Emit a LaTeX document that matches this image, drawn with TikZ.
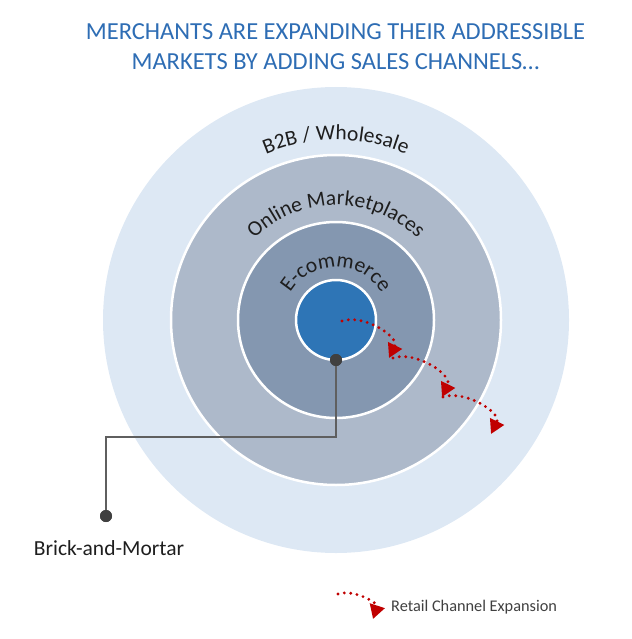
\documentclass[tikz,border=0pt]{standalone}
\usepackage{fontspec}
\setmainfont{Carlito}
\usetikzlibrary{arrows.meta,decorations.text,calc}
\definecolor{outerc}{HTML}{DDE8F4}
\definecolor{mktc}{HTML}{ADB9CA}
\definecolor{ecomc}{HTML}{8497B0}
\definecolor{corec}{HTML}{2E75B6}
\definecolor{titlec}{HTML}{2E6DB4}
\definecolor{ringtxt}{HTML}{1E1E1E}
\definecolor{dotc}{HTML}{404040}
\definecolor{connc}{HTML}{5F5F5F}
\definecolor{expred}{HTML}{C00000}
\begin{document}
\begin{tikzpicture}[x=1pt,y=1pt,
  ring/.style={circle, inner sep=0pt, line width=2.5pt},
  pin/.style={circle, fill=dotc, inner sep=0pt, minimum size=12pt},
  conn/.style={draw=connc, line width=1.6pt},
  expand/.style={draw=expred, line width=3.2pt, dash pattern=on 0pt off 6.4pt, line cap=round,
    -{Triangle[length=14pt 0 0,width=15pt 0 0]}},
  titletxt/.style={anchor=base, text=titlec, font=\fontsize{24.5}{27}\selectfont, inner sep=0pt},
  ringlabel/.style={decorate, decoration={text along path, text align=center, text color=ringtxt}}
]
\useasboundingbox (0,0) rectangle (631,-639);
\coordinate (C) at (336,-320);
% rings
\node[ring, fill=outerc, minimum size=466pt] (outer) at (C) {};
\node[ring, fill=mktc, draw=white, minimum size=330pt] (mkt) at (C) {};
\node[ring, fill=ecomc, draw=white, minimum size=196pt] (ecom) at (C) {};
\node[ring, fill=corec, draw=white, minimum size=80pt] (core) at (C) {};
% curved labels
\path[ringlabel, decoration={text={|\fontsize{21.5}{24}\selectfont|B2B / Wholesale}}]
  ($(C)+(165:180)$) arc[start angle=165, end angle=15, radius=180];
\path[ringlabel, decoration={text={|\fontsize{21.5}{24}\selectfont|Online Marketplaces}}]
  ($(C)+(175:115)$) arc[start angle=175, end angle=5, radius=115];
\path[ringlabel, decoration={text={|\fontsize{21.5}{24}\selectfont|E-commerce}}]
  ($(C)+(178:53)$) arc[start angle=178, end angle=2, radius=53];
% title
\node[titletxt] (t1) at (335.5,-40) {MERCHANTS ARE EXPANDING THEIR ADDRESSIBLE};
\node[titletxt] (t2) at (335.5,-69.5) {MARKETS BY ADDING SALES CHANNELS…};
% connector
\coordinate (bend) at (106,-437);
\node[pin] (d1) at (336,-360) {};
\node[pin] (d2) at (106,-516) {};
\draw[conn] (d1.center) |- (bend) -- (d2.center);
\node[pin] at (d1) {};
\node[pin] at (d2) {};
\node[anchor=base, inner sep=0pt, text=ringtxt, font=\fontsize{21.5}{24}\selectfont] (bm) at (109,-555) {Brick-and-Mortar};
% expansion arrows
\coordinate (a1s) at (342,-321);
\coordinate (a1e) at (389,-358);
\coordinate (a2s) at (393,-358);
\coordinate (a2e) at (442,-397);
\coordinate (a3s) at (443,-397);
\coordinate (a3e) at (491,-434);
\draw[expand] (a1s) to[out=18,in=64] (a1e);
\draw[expand] (a2s) to[out=18,in=64] (a2e);
\draw[expand] (a3s) to[out=18,in=64] (a3e);
% legend
\coordinate (ls) at (338,-594);
\coordinate (le) at (373,-619);
\draw[expand] (ls) to[out=18,in=72] (le);
\node[anchor=base west, inner sep=0pt, text=dotc, font=\fontsize{16.3}{19}\selectfont] (leg) at (391,-611) {Retail Channel Expansion};
\end{tikzpicture}
\end{document}
